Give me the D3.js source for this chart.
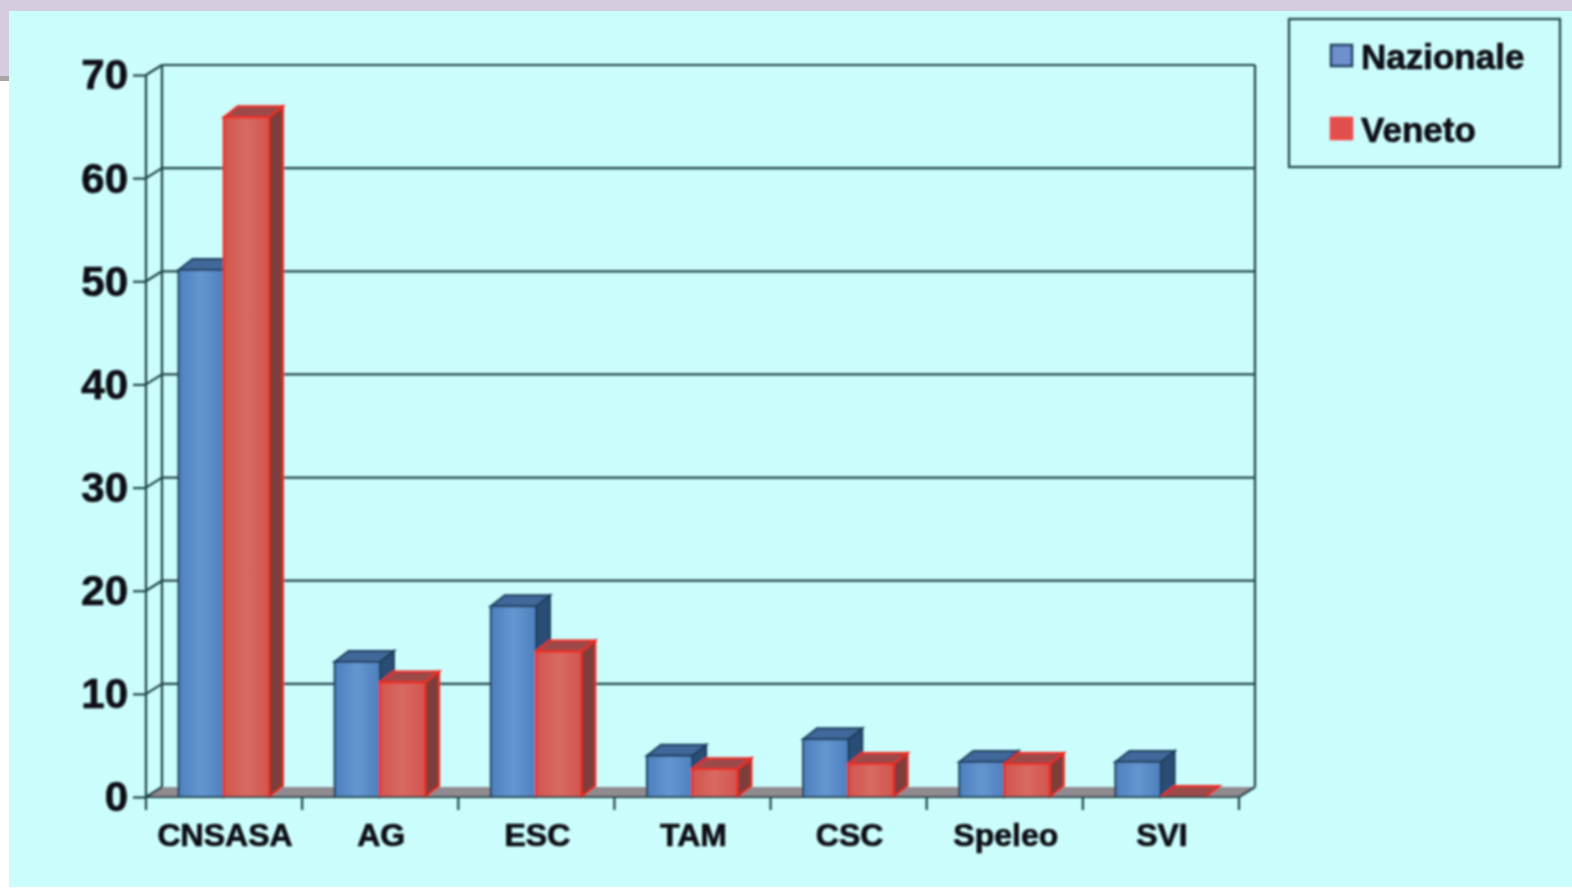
<!DOCTYPE html>
<meta charset="utf-8">
<style>
body { margin: 0; background: #fff; }
svg { display: block; }
text { font-family: "Liberation Sans", Arial, sans-serif; font-weight: bold; fill: #0a0f14; stroke: #0a0f14; stroke-width: 0.7px; }
.frame { fill: none; stroke: #1f4247; stroke-width: 2.2px; }
.axis path, .axis line { stroke: #1f4247; stroke-width: 2.2px; }
</style>
<svg width="1572" height="889"></svg>
<script src="https://d3js.org/d3.v7.min.js"></script>
<script>
var categories = ["CNSASA", "AG", "ESC", "TAM", "CSC", "Speleo", "SVI"];
var seriesNames = ["Nazionale", "Veneto"];
var nazionale = [51.1, 13.1, 18.5, 4, 5.6, 3.4, 3.4];
var veneto = [65.9, 11.1, 14.1, 2.7, 3.2, 3.2, 0];
var yTicks = [0, 10, 20, 30, 40, 50, 60, 70];

var svg = d3.select("svg");
var margin = {left: 146, right: 1239, top: 75, bottom: 797};
var depth = {x: 16, y: -10};
var barDepth = {x: 14, y: -11};

var x = d3.scaleBand().domain(categories).range([margin.left, margin.right]);
var xInner = d3.scaleBand().domain(seriesNames).range([32.5, 123]);
var y = d3.scaleLinear().domain([0, 70]).range([margin.bottom, margin.top]);

var colors = {
  Nazionale: {c0: "#4d80bd", c1: "#6496d0", top: "#41689a", side: "#2a4d74", edge: "#1d3f5c", key: "#6f8fcf"},
  Veneto: {c0: "#d2554e", c1: "#d76a62", top: "#9c4a48", side: "#7c3d3a", edge: "#f0281e", key: "#e0504e"}
};

var defs = svg.append("defs");
defs.append("filter").attr("id", "soft")
  .append("feGaussianBlur").attr("stdDeviation", 0.9);
seriesNames.forEach(function(s) {
  var g = defs.append("linearGradient").attr("id", "grad" + s);
  g.append("stop").attr("offset", "0%").attr("stop-color", colors[s].c0);
  g.append("stop").attr("offset", "50%").attr("stop-color", colors[s].c1);
  g.append("stop").attr("offset", "100%").attr("stop-color", colors[s].c0);
});

// slide background
svg.append("rect").attr("width", 1572).attr("height", 889).attr("fill", "#fff");
svg.append("rect").attr("width", 1572).attr("height", 11).attr("fill", "#d6cce0");
svg.append("rect").attr("width", 10).attr("height", 76).attr("fill", "#d6cce0");
svg.append("rect").attr("y", 76).attr("width", 10).attr("height", 5).attr("fill", "#a9a6a8");
svg.append("rect").attr("x", 9).attr("y", 11).attr("width", 1563).attr("height", 876).attr("fill", "#ccfdfd");

var chart = svg.append("g").attr("filter", "url(#soft)");

// floor
chart.append("path").attr("fill", "#8f8b90")
  .attr("d", d3.line()([
    [margin.left, margin.bottom],
    [margin.left + depth.x, margin.bottom + depth.y],
    [margin.right + depth.x, margin.bottom + depth.y],
    [margin.right, margin.bottom]
  ]) + "Z");

// back wall grid and side wall
chart.selectAll(".grid").data(yTicks.slice(1)).enter().append("line")
  .attr("class", "frame")
  .attr("x1", margin.left + depth.x).attr("x2", margin.right + depth.x)
  .attr("y1", function(d) { return y(d) + depth.y; })
  .attr("y2", function(d) { return y(d) + depth.y; });
chart.selectAll(".diag").data(yTicks).enter().append("line")
  .attr("class", "frame")
  .attr("x1", margin.left).attr("x2", margin.left + depth.x)
  .attr("y1", function(d) { return y(d); })
  .attr("y2", function(d) { return y(d) + depth.y; });
chart.append("line").attr("class", "frame")
  .attr("x1", margin.left + depth.x).attr("x2", margin.left + depth.x)
  .attr("y1", y(70) + depth.y).attr("y2", y(0) + depth.y);
chart.append("line").attr("class", "frame")
  .attr("x1", margin.right + depth.x).attr("x2", margin.right + depth.x)
  .attr("y1", y(70) + depth.y).attr("y2", y(0) + depth.y);
chart.append("line").attr("class", "frame")
  .attr("x1", margin.right).attr("x2", margin.right + depth.x)
  .attr("y1", y(0)).attr("y2", y(0) + depth.y);

// bars
var bars = [];
categories.forEach(function(c, i) {
  bars.push({cat: c, s: "Nazionale", v: nazionale[i]});
  bars.push({cat: c, s: "Veneto", v: veneto[i]});
});
var bar = chart.selectAll(".bar").data(bars).enter().append("g").attr("class", "bar");

function bx(d) { return x(d.cat) + xInner(d.s); }

bar.append("path")
  .attr("fill", function(d) { return colors[d.s].side; })
  .attr("stroke", function(d) { return colors[d.s].edge; })
  .attr("stroke-width", 2)
  .attr("d", function(d) {
    var r = bx(d) + xInner.bandwidth(), t = y(d.v), b = y(0);
    return d3.line()([[r, t], [r + barDepth.x, t + barDepth.y], [r + barDepth.x, b + barDepth.y], [r, b]]) + "Z";
  });
bar.append("path")
  .attr("fill", function(d) { return colors[d.s].top; })
  .attr("stroke", function(d) { return colors[d.s].edge; })
  .attr("stroke-width", 2)
  .attr("d", function(d) {
    var l = bx(d), r = l + xInner.bandwidth(), t = y(d.v);
    return d3.line()([[l, t], [l + barDepth.x, t + barDepth.y], [r + barDepth.x, t + barDepth.y], [r, t]]) + "Z";
  });
bar.append("rect")
  .attr("x", bx)
  .attr("y", function(d) { return y(d.v); })
  .attr("width", xInner.bandwidth())
  .attr("height", function(d) { return y(0) - y(d.v); })
  .attr("fill", function(d) { return "url(#grad" + d.s + ")"; })
  .attr("stroke", function(d) { return colors[d.s].edge; })
  .attr("stroke-width", 2);

// axes
var yAxis = chart.append("g").attr("class", "axis")
  .attr("transform", "translate(" + margin.left + ",0)")
  .call(d3.axisLeft(y).tickValues(yTicks).tickSize(13).tickPadding(5).tickFormat(d3.format("d")));
yAxis.selectAll("text").style("font-size", "42px").attr("dy", "0.33em");
yAxis.select(".domain").attr("d", "M0," + y(70) + "V" + y(0));

var xAxis = chart.append("g").attr("class", "axis")
  .attr("transform", "translate(0," + margin.bottom + ")");
xAxis.call(d3.axisBottom(x).tickSize(0).tickPadding(26));
xAxis.selectAll("text").style("font-size", "32px").attr("dx", "1");
xAxis.select(".domain").attr("d", "M" + margin.left + ",0H" + margin.right);
xAxis.selectAll(".sep").data(d3.range(categories.length + 1)).enter().append("line")
  .attr("x1", function(i) { return margin.left + i * x.step(); })
  .attr("x2", function(i) { return margin.left + i * x.step(); })
  .attr("y1", 0).attr("y2", 13);

// legend
var legend = chart.append("g");
legend.append("rect").attr("class", "frame")
  .attr("x", 1289).attr("y", 19).attr("width", 271).attr("height", 148);
var item = legend.selectAll(".item").data(seriesNames).enter().append("g")
  .attr("transform", function(d, i) { return "translate(0," + (56 + i * 73) + ")"; });
item.append("rect").attr("x", 1331).attr("y", -11).attr("width", 21).attr("height", 21)
  .attr("fill", function(d) { return colors[d].key; })
  .attr("stroke", function(d) { return d == "Veneto" ? "#ef4a48" : "#1d3f5c"; })
  .attr("stroke-width", 2.5);
item.append("text").attr("x", 1361).attr("dy", "0.36em")
  .style("font-size", "35px").text(function(d) { return d; });
</script>
